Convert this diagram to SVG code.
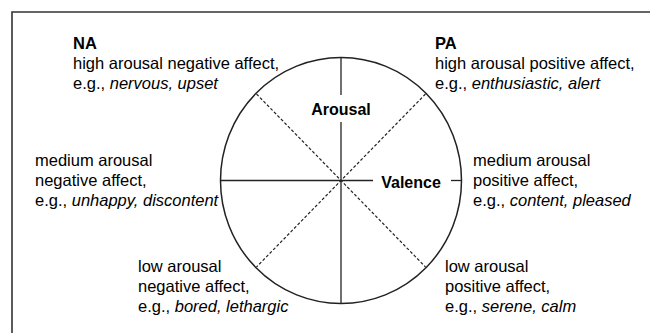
<svg xmlns="http://www.w3.org/2000/svg" width="650" height="333" viewBox="0 0 650 333">
<style>
text{font-family:"Liberation Sans",Arial,sans-serif;font-size:16.5px;fill:#000}
.b{font-weight:bold}
.ax{font-weight:bold;font-size:16px;text-anchor:middle}
.i{font-style:italic}
.solid{stroke:#222;stroke-width:1.3;fill:none}
.dash{stroke:#222;stroke-width:1.2;stroke-dasharray:3 2;fill:none}
</style>
<rect width="650" height="333" fill="#fff"/>
<path d="M12,333 V12 H650" fill="none" stroke="#333" stroke-width="1.6"/>
<g id="wheel">
<ellipse cx="341" cy="180.5" rx="120.5" ry="123" fill="none" stroke="#222" stroke-width="1.5"/>
</g>
<g id="connectors">
<line class="solid" x1="341" y1="57.5" x2="341" y2="95"/>
<line class="solid" x1="341" y1="122" x2="341" y2="303.5"/>
<line class="solid" x1="220.5" y1="180.5" x2="373" y2="180.5"/>
<line class="solid" x1="451" y1="180.5" x2="461.5" y2="180.5"/>
<line class="dash" x1="256.5" y1="94" x2="425.5" y2="267"/>
<line class="dash" x1="425.5" y1="94" x2="256.5" y2="267"/>
</g>
<g id="axis-arousal"><text class="ax" x="341" y="115">Arousal</text></g>
<g id="axis-valence"><text class="ax" x="411" y="188">Valence</text></g>
<g id="na">
<text class="b" x="73" y="49">NA</text>
<text x="73" y="69">high arousal negative affect,</text>
<text x="73" y="89">e.g., <tspan class="i">nervous, upset</tspan></text>
</g>
<g id="pa">
<text class="b" x="435" y="49">PA</text>
<text x="435" y="69">high arousal positive affect,</text>
<text x="435" y="89">e.g., <tspan class="i">enthusiastic, alert</tspan></text>
</g>
<g id="medium-negative">
<text x="35" y="166">medium arousal</text>
<text x="35" y="186">negative affect,</text>
<text x="35" y="206">e.g., <tspan class="i">unhappy, discontent</tspan></text>
</g>
<g id="medium-positive">
<text x="473" y="166">medium arousal</text>
<text x="473" y="186">positive affect,</text>
<text x="473" y="206">e.g., <tspan class="i">content, pleased</tspan></text>
</g>
<g id="low-negative">
<text x="138" y="272">low arousal</text>
<text x="138" y="292">negative affect,</text>
<text x="138" y="312">e.g., <tspan class="i">bored, lethargic</tspan></text>
</g>
<g id="low-positive">
<text x="445" y="272">low arousal</text>
<text x="445" y="292">positive affect,</text>
<text x="445" y="312">e.g., <tspan class="i">serene, calm</tspan></text>
</g>
</svg>
